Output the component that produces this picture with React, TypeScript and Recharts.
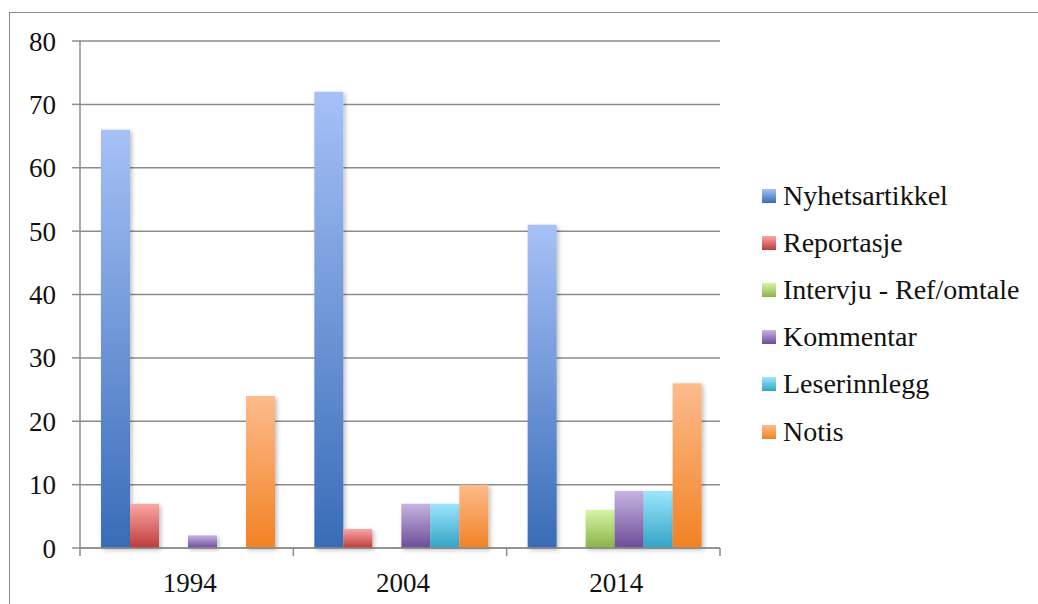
import React from 'react';
import { BarChart, Bar, XAxis, YAxis, CartesianGrid } from 'recharts';

const years = ['1994', '2004', '2014'];
const nyhetsartikkel = [66, 72, 51];
const reportasje = [7, 3, 0];
const intervju = [0, 0, 6];
const kommentar = [2, 7, 9];
const leserinnlegg = [0, 7, 9];
const notis = [24, 10, 26];
const yTicks = [0, 10, 20, 30, 40, 50, 60, 70, 80];

const series = [
  { key: 'nyhetsartikkel', name: 'Nyhetsartikkel', top: '#a6c1f6', bottom: '#386cb7' },
  { key: 'reportasje', name: 'Reportasje', top: '#fba7a6', bottom: '#be3a3a' },
  { key: 'intervju', name: 'Intervju - Ref/omtale', top: '#d6f5a4', bottom: '#8bb24a' },
  { key: 'kommentar', name: 'Kommentar', top: '#c6b4e2', bottom: '#6c4c98' },
  { key: 'leserinnlegg', name: 'Leserinnlegg', top: '#9ce6fd', bottom: '#33a3c6' },
  { key: 'notis', name: 'Notis', top: '#fdbb8c', bottom: '#f28224' },
];

const data = years.map((year, i) => ({
  year,
  nyhetsartikkel: nyhetsartikkel[i],
  reportasje: reportasje[i],
  intervju: intervju[i],
  kommentar: kommentar[i],
  leserinnlegg: leserinnlegg[i],
  notis: notis[i],
}));

const FONT = '"Liberation Serif", "DejaVu Serif", serif';
const AXIS = '#8c8c8c';

// category label in the middle, tick marks on the band edges
const YearTick = (props: any) => {
  const { x, y, payload, index, visibleTicksCount } = props;
  const half = payload && payload.offset ? payload.offset : 0;
  const last = index === (visibleTicksCount || 3) - 1;
  return (
    <g>
      <line x1={x - half} x2={x - half} y1={y - 8} y2={y} stroke={AXIS} strokeWidth={1.5} />
      {last && <line x1={x + half} x2={x + half} y1={y - 8} y2={y} stroke={AXIS} strokeWidth={1.5} />}
      <text x={x + 3} y={y + 36} textAnchor="middle" fontFamily={FONT} fontSize={27} fill="#111">
        {payload.value}
      </text>
    </g>
  );
};

const LegendList = () => (
  <div style={{ fontFamily: FONT, fontSize: 28, color: '#111' }}>
    {series.map((s) => (
      <div key={s.key} style={{ display: 'flex', alignItems: 'center', height: 47.2 }}>
        <span
          style={{
            display: 'inline-block',
            width: 14,
            height: 14,
            marginRight: 7,
            background: `linear-gradient(${s.top}, ${s.bottom})`,
          }}
        />
        <span>{s.name}</span>
      </div>
    ))}
  </div>
);

export default function App() {
  return (
    <div style={{ position: 'absolute', left: 0, top: 0, width: 1038, height: 604, background: '#fff', overflow: 'hidden' }}>
      <div
        style={{
          position: 'absolute',
          left: 9,
          top: 12,
          width: 1040,
          height: 600,
          border: '1.5px solid #8c8c8c',
        }}
      />
      <div style={{ position: 'absolute', left: 0, top: 0 }}>
        <BarChart
          width={1038}
          height={604}
          data={data}
          margin={{ top: 41, right: 318, bottom: 0, left: 20 }}
          barCategoryGap={21}
          barGap={0}
        >
          <defs>
            {series.map((s) => (
              <linearGradient key={s.key} id={`grad-${s.key}`} x1="0" y1="0" x2="0" y2="1">
                <stop offset="0%" stopColor={s.top} />
                <stop offset="100%" stopColor={s.bottom} />
              </linearGradient>
            ))}
            <filter id="shadow" x="-20%" y="-20%" width="150%" height="150%">
              <feDropShadow dx="2" dy="2" stdDeviation="2" floodColor="#000" floodOpacity="0.25" />
            </filter>
          </defs>
          <CartesianGrid vertical={false} stroke={AXIS} strokeWidth={1.5} />
          <XAxis
            dataKey="year"
            axisLine={{ stroke: AXIS, strokeWidth: 1.5 }}
            tickLine={false}
            tick={<YearTick />}
            interval={0}
            height={56}
          />
          <YAxis
            domain={[0, 80]}
            ticks={yTicks}
            width={60}
            axisLine={{ stroke: AXIS, strokeWidth: 1.5 }}
            tickLine={{ stroke: AXIS, strokeWidth: 1.5 }}
            tickSize={8}
            tickMargin={16}
            tick={{ fontFamily: FONT, fontSize: 27, fill: '#111' }}
          />
          {series.map((s) => (
            <Bar
              key={s.key}
              dataKey={s.key}
              name={s.name}
              fill={`url(#grad-${s.key})`}
              filter="url(#shadow)"
              isAnimationActive={false}
            />
          ))}
        </BarChart>
      </div>
      <div style={{ position: 'absolute', left: 762, top: 172 }}>
        <LegendList />
      </div>
    </div>
  );
}
